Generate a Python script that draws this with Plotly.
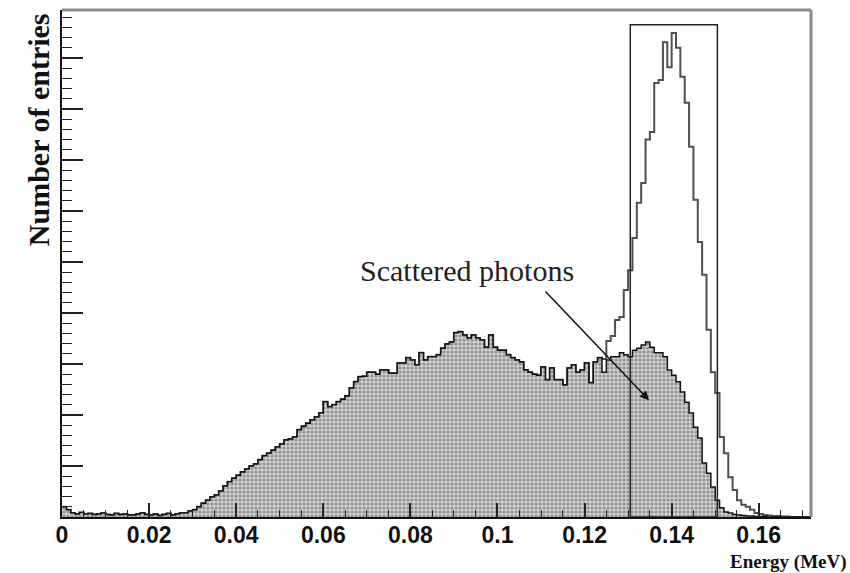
import numpy as np
import plotly.graph_objects as go

# Energy binning (MeV): 1 keV bins from 0 to 0.172 MeV
bin_width = 0.001
n_bins = 172

# Entries per bin for the scattered-photon component
scattered = [
    20, 14, 8, 6, 9, 6, 7, 5, 6, 8, 5, 4, 7, 5, 6, 4, 4, 6, 8, 5, 4, 6, 3, 5, 7, 4, 6, 8,
    8, 12, 14, 20, 27, 33, 39, 43, 51, 61, 69, 76, 82, 88, 94, 100, 104, 112, 120, 125,
    131, 137, 143, 151, 153, 157, 171, 178, 184, 190, 196, 204, 226, 216, 220, 226, 231,
    237, 253, 265, 275, 276,
    284, 284, 280, 288, 288, 282, 282, 302, 302, 312, 308, 298, 322, 308, 314, 314, 318,
    331, 339, 343, 361, 363, 357, 351, 357, 351, 347, 333, 357, 333, 327, 327, 318, 312,
    308, 304, 288, 284, 280, 278, 294, 269, 292, 269, 269, 259, 292, 298, 284, 288, 302, 263,
    304, 312, 284, 308, 314, 314, 322, 318, 314, 327, 331, 337, 343, 333, 322, 322, 314,
    288, 278, 265, 245, 225, 204, 176, 155, 106, 86, 59, 33, 18, 10, 8, 5, 4, 3, 2, 2, 1,
    1, 1, 0, 0, 0, 0, 0, 0, 0, 0, 0, 0,
]

# Entries per bin for all photons, from bin 122 upward (below that it equals the scattered part)
total_tail = [
    304, 312, 310, 345, 355, 386, 392, 445, 484, 547,
    616, 655, 740, 755, 851, 857, 931, 882, 949, 920,
    863, 812, 726, 622, 539, 475, 367, 284, 243, 157,
    125, 78, 53, 33, 24, 20, 14, 8, 6, 4,
    3, 2, 2, 1, 1, 0, 0, 0, 0, 0,
]
tail_start = 122

# Photopeak selection window (MeV) and its drawn height
window_lo, window_hi = 0.1305, 0.1505
window_height = 965

x_tick_values = [0, 0.02, 0.04, 0.06, 0.08, 0.10, 0.12, 0.14, 0.16]
x_tick_labels = ["0", "0.02", "0.04", "0.06", "0.08", "0.1", "0.12", "0.14", "0.16"]

total = scattered[:tail_start] + total_tail

edges = np.arange(n_bins + 1) * bin_width


def step_xy(counts):
    xs = list(edges)
    ys = list(counts) + [counts[-1]]
    return xs, ys


fig = go.Figure()

tx, ty = step_xy(total)
fig.add_trace(go.Scatter(
    x=tx, y=ty, mode="lines", line=dict(shape="hv", color="#505050", width=2),
    hoverinfo="skip", showlegend=False,
))

sx, sy = step_xy(scattered)
fig.add_trace(go.Scatter(
    x=sx, y=sy, mode="lines", line=dict(shape="hv", color="#111111", width=1.5),
    fill="tozeroy",
    fillpattern=dict(shape=".", fgcolor="#555555", bgcolor="#cfcfcf", size=4, solidity=0.5),
    hoverinfo="skip", showlegend=False,
))

# selection window
fig.add_shape(type="rect", xref="x", yref="y", x0=window_lo, x1=window_hi, y0=0, y1=window_height,
              line=dict(color="#222222", width=1.5), fillcolor="rgba(0,0,0,0)", layer="above")

# frame: top and right edges in grey
fig.add_shape(type="line", xref="paper", yref="paper", x0=0, x1=1, y0=1, y1=1,
              line=dict(color="#8a8a8a", width=3))
fig.add_shape(type="line", xref="paper", yref="paper", x0=1, x1=1, y0=0, y1=1,
              line=dict(color="#8a8a8a", width=3))

fig.add_annotation(x=0.093, y=484, xref="x", yref="y", text="Scattered photons",
                   showarrow=False, font=dict(family="Liberation Serif", size=30, color="#222222"))
fig.add_annotation(x=0.1348, y=229, xref="x", yref="y", ax=0.1107, ay=445, axref="x", ayref="y",
                   text="", showarrow=True, arrowhead=2, arrowsize=1.2, arrowwidth=1.5,
                   arrowcolor="#111111")

fig.add_annotation(x=-0.032, y=0.763, xref="paper", yref="paper", text="<b>Number of entries</b>",
                   textangle=-90, showarrow=False, xanchor="center", yanchor="middle",
                   font=dict(family="Liberation Serif", size=30, color="#111111"))
fig.add_annotation(x=0.889, y=-0.063, xref="paper", yref="paper", text="<b>Energy (MeV)</b>",
                   showarrow=False, xanchor="left", yanchor="top",
                   font=dict(family="Liberation Serif", size=19, color="#111111"))

fig.update_xaxes(
    range=[0, 0.172], showgrid=False, zeroline=False,
    showline=True, linecolor="#111111", linewidth=2,
    tickmode="array", tickvals=x_tick_values, ticktext=x_tick_labels,
    ticks="inside", ticklen=14, tickwidth=1.5, tickcolor="#222222",
    ticklabelstandoff=-4,
    tickfont=dict(family="Liberation Sans", size=23, color="#111111", weight="bold"),
    minor=dict(ticks="inside", ticklen=7, tickwidth=1.2, tickcolor="#222222", dtick=0.005, tick0=0,
               showgrid=False),
)
fig.update_yaxes(
    range=[0, 994], showgrid=False, zeroline=False,
    showline=True, linecolor="#111111", linewidth=2,
    showticklabels=False, tick0=0, dtick=100,
    ticks="inside", ticklen=21, tickwidth=1.5, tickcolor="#222222",
    minor=dict(ticks="inside", ticklen=10, tickwidth=1.2, tickcolor="#222222", dtick=20, tick0=0,
               showgrid=False),
)

fig.update_layout(
    width=850, height=573,
    margin=dict(l=62, r=39, t=10, b=56),
    paper_bgcolor="white", plot_bgcolor="white",
    showlegend=False,
)

fig.write_html("out.html")
